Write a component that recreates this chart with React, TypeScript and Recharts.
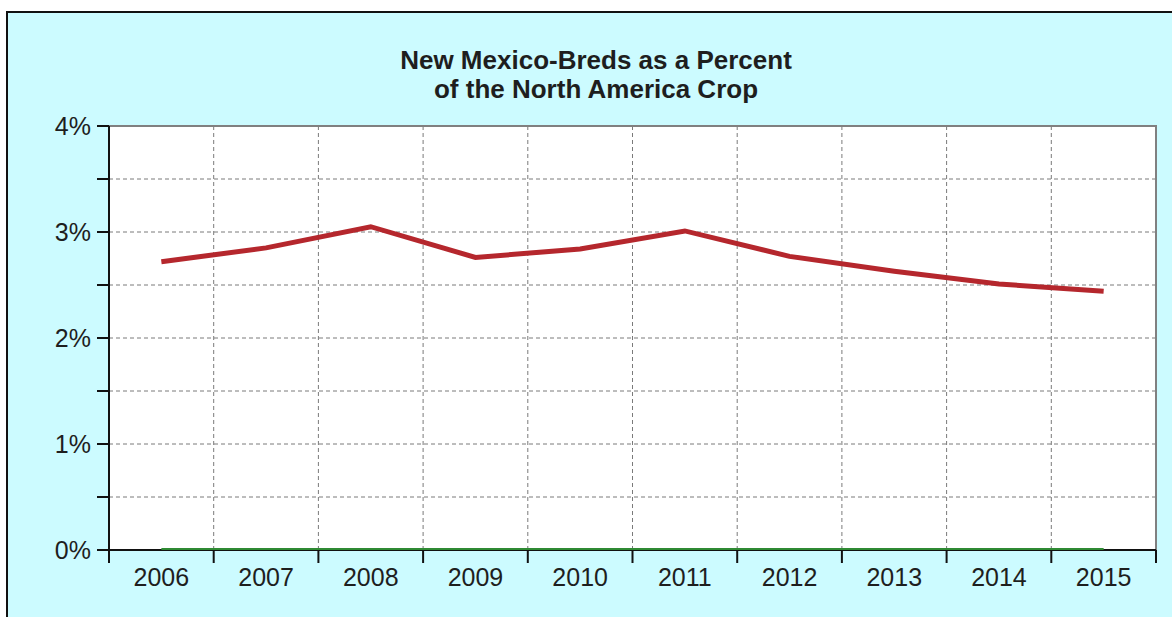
import React from 'react'
import { LineChart, Line, XAxis, YAxis, CartesianGrid, ReferenceArea } from 'recharts'

const years = ['2006', '2007', '2008', '2009', '2010', '2011', '2012', '2013', '2014', '2015']
const nmPercent = [2.72, 2.85, 3.05, 2.76, 2.84, 3.01, 2.77, 2.63, 2.51, 2.44]
const baseline = [0, 0, 0, 0, 0, 0, 0, 0, 0, 0]
const yTicks = [0, 0.5, 1, 1.5, 2, 2.5, 3, 3.5, 4]
const boundaryTicks = [0, 1, 2, 3, 4, 5, 6, 7, 8, 9, 10]
const titleLines = ['New Mexico-Breds as a Percent', 'of the North America Crop']

const chartData = years.map((year, i) => ({
  x: i + 0.5,
  year,
  pct: nmPercent[i],
  base: baseline[i]
}))
const yearTicks = years.map((_, i) => i + 0.5)

const font = '"Liberation Sans", Arial, sans-serif'
const textColor = '#1e1e1e'

export default function App() {
  return (
    <div style={{ position: 'fixed', left: 0, top: 0, width: 1172, height: 617, background: '#fff', overflow: 'hidden' }}>
      <div
        style={{
          position: 'absolute',
          left: 6,
          top: 11,
          right: 0,
          bottom: 0,
          background: '#ccfbff',
          borderLeft: '2px solid #111',
          borderTop: '2px solid #111'
        }}
      />
      <div
        style={{
          position: 'absolute',
          left: 0,
          width: 1192,
          top: 46,
          textAlign: 'center',
          fontFamily: font,
          fontWeight: 'bold',
          fontSize: 26,
          lineHeight: '29px',
          color: textColor
        }}
      >
        {titleLines.map(t => (
          <div key={t}>{t}</div>
        ))}
      </div>
      <div style={{ position: 'absolute', left: 0, top: 0 }}>
        <LineChart width={1172} height={617} data={chartData} margin={{ top: 126, right: 16, left: 49, bottom: 14 }}>
          <CartesianGrid
            fill="#fff"
            stroke="#7a7a7a"
            strokeDasharray="4 3"
            verticalValues={boundaryTicks.slice(1, -1)}
            horizontalValues={yTicks.slice(1, -1)}
          />
          <ReferenceArea x1={0} x2={10} y1={0} y2={4} fill="none" stroke="#808080" strokeWidth={2} fillOpacity={0} />
          <XAxis
            dataKey="x"
            type="number"
            domain={[0, 10]}
            ticks={boundaryTicks}
            tickFormatter={() => ''}
            height={13}
            tickSize={13}
            axisLine={{ stroke: '#111', strokeWidth: 2 }}
            tickLine={{ stroke: '#111', strokeWidth: 2 }}
            allowDataOverflow
          />
          <XAxis
            xAxisId="years"
            dataKey="x"
            type="number"
            domain={[0, 10]}
            ticks={yearTicks}
            tickFormatter={(v: number) => years[Math.floor(v)]}
            height={40}
            axisLine={false}
            tickLine={false}
            tickSize={0}
            tickMargin={5}
            tick={{ fill: textColor, fontSize: 25, fontFamily: font }}
          />
          <YAxis
            type="number"
            domain={[0, 4]}
            ticks={yTicks}
            tickFormatter={(v: number) => (Number.isInteger(v) ? `${v}%` : '')}
            width={60}
            tickSize={12}
            tickMargin={6}
            axisLine={{ stroke: '#111', strokeWidth: 2 }}
            tickLine={{ stroke: '#111', strokeWidth: 2 }}
            tick={{ fill: textColor, fontSize: 25, fontFamily: font }}
            allowDataOverflow
          />
          <Line dataKey="base" stroke="#2f8a34" strokeWidth={4} dot={false} isAnimationActive={false} zIndex={600} />
          <Line dataKey="pct" stroke="#b5272d" strokeWidth={5} dot={false} isAnimationActive={false} zIndex={600} />
        </LineChart>
      </div>
    </div>
  )
}
